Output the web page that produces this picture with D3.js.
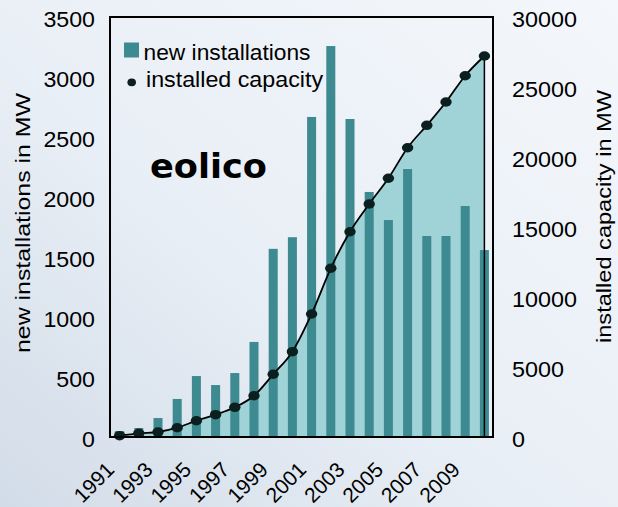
<!DOCTYPE html>
<html><head><meta charset="utf-8">
<script src="https://cdn.jsdelivr.net/npm/d3@7"></script>
<style>
html,body{margin:0;padding:0;}
svg{display:block;font-family:"Liberation Sans",Arial,sans-serif;}
</style></head>
<body>
<svg id="chart" width="618" height="507"></svg>
<script>
const years = [1991,1992,1993,1994,1995,1996,1997,1998,1999,2000,2001,2002,2003,2004,2005,2006,2007,2008,2009,2010];
const newInstallations = [50,75,158,317,508,433,533,792,1568,1665,2667,3258,2650,2042,1808,2233,1675,1675,1925,1558];
const installedCapacity = [93,264,357,664,1164,1593,2121,2950,4479,6093,8786,12050,14664,16643,18479,20664,22264,23929,25807,27214];
const leftTicks = [0,500,1000,1500,2000,2500,3000,3500];
const rightTicks = [0,5000,10000,15000,20000,25000,30000];
const xTickLabels = [1991,1993,1995,1997,1999,2001,2003,2005,2007,2009];
const legendLabels = ["new installations","installed capacity"];
const leftTitle = "new installations in MW";
const rightTitle = "installed capacity in MW";
const chartLabel = "eolico";

const W = 618, H = 507;
const plot = {left:110, right:493, top:17, bottom:437};
const barColor = "#3d8b91", areaColor = "#a0d3d7", dotColor = "#0c1f1f";
const FONT = "'Liberation Sans', Arial, sans-serif";

const svg = d3.select("#chart");
const defs = svg.append("defs");
const grad = defs.append("linearGradient").attr("id","bg")
  .attr("x1","0").attr("y1","1").attr("x2","1").attr("y2","0");
grad.append("stop").attr("offset","0").attr("stop-color","#d2dce8");
grad.append("stop").attr("offset","0.45").attr("stop-color","#e9eff6");
grad.append("stop").attr("offset","1").attr("stop-color","#f4f7fb");
svg.append("rect").attr("width",W).attr("height",H).attr("fill","url(#bg)");

const x = d3.scaleBand().domain(years).range([plot.left, 494]).paddingInner(0.53).paddingOuter(0.265);
const yL = d3.scaleLinear().domain([0,3500]).range([plot.bottom, plot.top]);
const yR = d3.scaleLinear().domain([0,30000]).range([plot.bottom, plot.top]);
const cx = d => x(d) + x.bandwidth()/2;

const capData = years.map((y,i)=>({year:y, v:installedCapacity[i]}));
const barData = years.map((y,i)=>({year:y, v:newInstallations[i]}));

// area under capacity line
svg.append("path").datum(capData)
  .attr("fill", areaColor)
  .attr("d", d3.area().x(d=>cx(d.year)).y0(plot.bottom).y1(d=>yR(d.v)).curve(d3.curveMonotoneX));

// bars
svg.append("g").selectAll("rect").data(barData).join("rect")
  .attr("x", d=>x(d.year)).attr("width", x.bandwidth())
  .attr("y", d=>yL(d.v)).attr("height", d=>plot.bottom - yL(d.v))
  .attr("fill", barColor);

// line
svg.append("path").datum(capData)
  .attr("fill","none").attr("stroke","#000").attr("stroke-width",1.8)
  .attr("d", d3.line().x(d=>cx(d.year)).y(d=>yR(d.v)).curve(d3.curveMonotoneX));
const last = capData[capData.length-1];
svg.append("line").attr("x1",cx(last.year)).attr("x2",cx(last.year))
  .attr("y1",yR(last.v)).attr("y2",plot.bottom).attr("stroke","#000").attr("stroke-width",1.5);

// dots
svg.append("g").selectAll("ellipse").data(capData).join("ellipse")
  .attr("cx", d=>cx(d.year)).attr("cy", d=>yR(d.v))
  .attr("rx",5.7).attr("ry",4.7).attr("fill",dotColor);

// frame
svg.append("rect").attr("x",plot.left).attr("y",plot.top)
  .attr("width",plot.right-plot.left).attr("height",plot.bottom-plot.top)
  .attr("fill","none").attr("stroke","#000").attr("stroke-width",2);

// left axis
const gL = svg.append("g").attr("transform",`translate(${plot.left},0)`)
  .call(d3.axisLeft(yL).tickValues(leftTicks).tickSize(0).tickPadding(15).tickFormat(d3.format("d")));
gL.attr("font-family", FONT);
gL.select(".domain").remove();
gL.selectAll("text").attr("font-size",22).attr("fill","#000").attr("dy","0.42em")
  .attr("textLength", function(){ return this.textContent.length*12.9; })
  .attr("lengthAdjust","spacingAndGlyphs");

// right axis
const gR = svg.append("g").attr("transform",`translate(${plot.right},0)`)
  .call(d3.axisRight(yR).tickValues(rightTicks).tickSize(0).tickPadding(19).tickFormat(d3.format("d")));
gR.attr("font-family", FONT);
gR.select(".domain").remove();
gR.selectAll("text").attr("font-size",22).attr("fill","#000").attr("dy","0.42em")
  .attr("textLength", function(){ return this.textContent.length*13; })
  .attr("lengthAdjust","spacingAndGlyphs");

// x labels
svg.append("g").attr("font-family", FONT).selectAll("text").data(xTickLabels).join("text")
  .attr("transform", d=>`translate(${cx(d)-4},${471}) rotate(-45)`)
  .attr("text-anchor","end").attr("font-size",21).attr("fill","#000")
  .text(d=>d);

// axis titles
svg.append("text").attr("font-family", FONT).attr("transform","translate(30,223) rotate(-90)")
  .attr("text-anchor","middle").attr("font-size",21).attr("fill","#000")
  .attr("textLength",260).attr("lengthAdjust","spacingAndGlyphs")
  .text(leftTitle);
svg.append("text").attr("font-family", FONT).attr("transform","translate(611,216.5) rotate(-90)")
  .attr("text-anchor","middle").attr("font-size",20.5).attr("fill","#000")
  .attr("textLength",253).attr("lengthAdjust","spacingAndGlyphs")
  .text(rightTitle);

// legend
svg.append("rect").attr("x",124).attr("y",42.5).attr("width",15).attr("height",15).attr("fill",barColor);
svg.append("text").attr("font-family", FONT).attr("x",143.5).attr("y",60).attr("font-size",22.5).attr("fill","#000")
  .attr("textLength",167).attr("lengthAdjust","spacingAndGlyphs").text(legendLabels[0]);
svg.append("ellipse").attr("cx",131.7).attr("cy",82.3).attr("rx",4.3).attr("ry",3.9).attr("fill",dotColor);
svg.append("text").attr("font-family", FONT).attr("x",146).attr("y",87.3).attr("font-size",22.5).attr("fill","#000")
  .attr("textLength",177).attr("lengthAdjust","spacingAndGlyphs").text(legendLabels[1]);

// chart label
svg.append("text").attr("x",150).attr("y",178.3)
  .attr("font-family","'DejaVu Sans', Verdana, sans-serif").attr("font-weight","bold")
  .attr("font-size",33).attr("fill","#000")
  .attr("textLength",117).attr("lengthAdjust","spacingAndGlyphs").text(chartLabel);
</script>
</body></html>
